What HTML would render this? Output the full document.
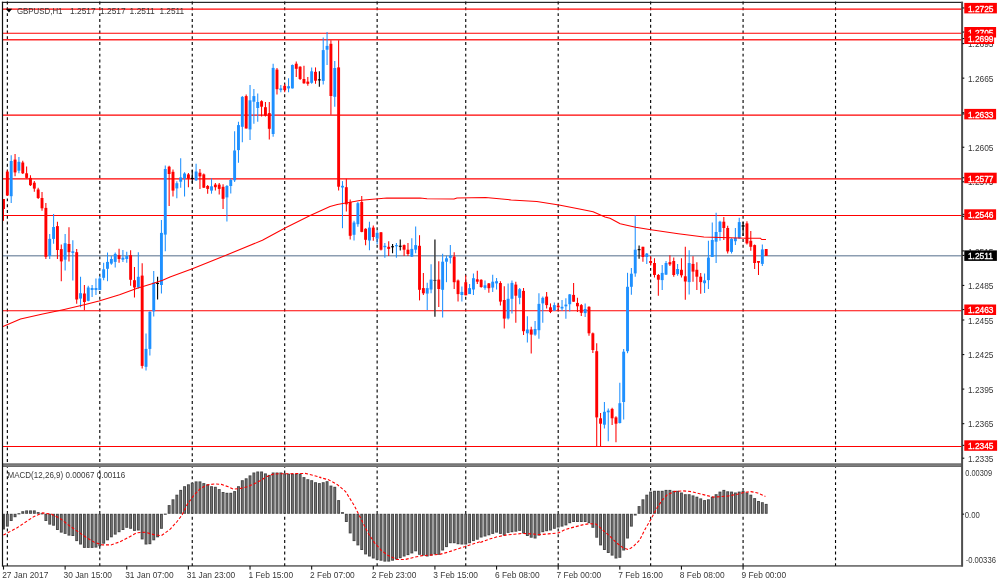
<!DOCTYPE html>
<html><head><meta charset="utf-8"><title>GBPUSD,H1</title>
<style>html,body{margin:0;padding:0;background:#fff;}body{width:1000px;height:586px;overflow:hidden;}svg{display:block;}text{font-family:"Liberation Sans",sans-serif;font-size:8.4px;}.t{filter:blur(0.3px);}</style></head><body>
<svg width="1000" height="586" viewBox="0 0 1000 586">
<rect width="1000" height="586" fill="#fff"/>
<g stroke="#000" stroke-width="1.12" stroke-dasharray="2.95 2.84" fill="none">
<path d="M7.35 1.56V566"/>
<path d="M99.80 1.56V566"/>
<path d="M192.25 1.56V566"/>
<path d="M284.70 1.56V566"/>
<path d="M377.14 1.56V566"/>
<path d="M465.74 1.56V566"/>
<path d="M558.19 1.56V566"/>
<path d="M650.64 1.56V566"/>
<path d="M743.08 1.56V566"/>
<path d="M835.53 1.56V566"/>
</g>
<g stroke="#ff0000" stroke-width="1.1">
<path d="M3 9.1H962"/>
<path d="M3 33.2H962"/>
<path d="M3 39.7H962" stroke="#ff2a2a" stroke-width="1.6"/>
<path d="M3 115.1H962"/>
<path d="M3 178.9H962"/>
<path d="M3 215.5H962"/>
<path d="M3 310.7H962"/>
<path d="M3 446.5H962"/>
</g>
<path d="M3 255.8H962" stroke="#8c9db1" stroke-width="1.5"/>
<g fill="#474747">
<rect x="3.00" y="513.80" width="1.95" height="15.70"/>
<rect x="5.90" y="513.80" width="2.90" height="12.80"/>
<rect x="9.75" y="513.80" width="2.90" height="7.20"/>
<rect x="13.61" y="513.80" width="2.90" height="3.40"/>
<rect x="17.46" y="513.20" width="2.90" height="1.2"/>
<rect x="21.31" y="511.20" width="2.90" height="2.60"/>
<rect x="25.16" y="510.40" width="2.90" height="3.40"/>
<rect x="29.01" y="510.40" width="2.90" height="3.40"/>
<rect x="32.87" y="510.40" width="2.90" height="3.40"/>
<rect x="36.72" y="512.10" width="2.90" height="1.70"/>
<rect x="40.57" y="513.20" width="2.90" height="1.2"/>
<rect x="44.42" y="513.80" width="2.90" height="7.20"/>
<rect x="48.27" y="513.80" width="2.90" height="10.80"/>
<rect x="52.13" y="513.80" width="2.90" height="11.90"/>
<rect x="55.98" y="513.80" width="2.90" height="16.20"/>
<rect x="59.83" y="513.80" width="2.90" height="18.80"/>
<rect x="63.68" y="513.80" width="2.90" height="20.10"/>
<rect x="67.53" y="513.80" width="2.90" height="21.80"/>
<rect x="71.39" y="513.80" width="2.90" height="22.20"/>
<rect x="75.24" y="513.80" width="2.90" height="27.30"/>
<rect x="79.09" y="513.80" width="2.90" height="30.70"/>
<rect x="82.94" y="513.80" width="2.90" height="34.10"/>
<rect x="86.79" y="513.80" width="2.90" height="34.10"/>
<rect x="90.65" y="513.80" width="2.90" height="34.10"/>
<rect x="94.50" y="513.80" width="2.90" height="33.80"/>
<rect x="98.35" y="513.80" width="2.90" height="32.40"/>
<rect x="102.20" y="513.80" width="2.90" height="29.90"/>
<rect x="106.05" y="513.80" width="2.90" height="26.50"/>
<rect x="109.91" y="513.80" width="2.90" height="23.50"/>
<rect x="113.76" y="513.80" width="2.90" height="20.80"/>
<rect x="117.61" y="513.80" width="2.90" height="18.40"/>
<rect x="121.46" y="513.80" width="2.90" height="16.20"/>
<rect x="125.31" y="513.80" width="2.90" height="14.00"/>
<rect x="129.17" y="513.80" width="2.90" height="15.00"/>
<rect x="133.02" y="513.80" width="2.90" height="17.10"/>
<rect x="136.87" y="513.80" width="2.90" height="16.70"/>
<rect x="140.72" y="513.80" width="2.90" height="25.60"/>
<rect x="144.57" y="513.80" width="2.90" height="30.70"/>
<rect x="148.43" y="513.80" width="2.90" height="30.40"/>
<rect x="152.28" y="513.80" width="2.90" height="26.50"/>
<rect x="156.13" y="513.80" width="2.90" height="23.50"/>
<rect x="159.98" y="513.80" width="2.90" height="15.00"/>
<rect x="163.83" y="513.60" width="2.90" height="1.2"/>
<rect x="167.69" y="505.10" width="2.90" height="8.70"/>
<rect x="171.54" y="499.30" width="2.90" height="14.50"/>
<rect x="175.39" y="494.70" width="2.90" height="19.10"/>
<rect x="179.24" y="489.90" width="2.90" height="23.90"/>
<rect x="183.09" y="486.20" width="2.90" height="27.60"/>
<rect x="186.95" y="484.30" width="2.90" height="29.50"/>
<rect x="190.80" y="482.70" width="2.90" height="31.10"/>
<rect x="194.65" y="481.40" width="2.90" height="32.40"/>
<rect x="198.50" y="481.40" width="2.90" height="32.40"/>
<rect x="202.35" y="483.10" width="2.90" height="30.70"/>
<rect x="206.21" y="484.30" width="2.90" height="29.50"/>
<rect x="210.06" y="486.20" width="2.90" height="27.60"/>
<rect x="213.91" y="486.80" width="2.90" height="27.00"/>
<rect x="217.76" y="489.10" width="2.90" height="24.70"/>
<rect x="221.61" y="492.00" width="2.90" height="21.80"/>
<rect x="225.47" y="492.80" width="2.90" height="21.00"/>
<rect x="229.32" y="492.80" width="2.90" height="21.00"/>
<rect x="233.17" y="491.10" width="2.90" height="22.70"/>
<rect x="237.02" y="486.20" width="2.90" height="27.60"/>
<rect x="240.87" y="480.20" width="2.90" height="33.60"/>
<rect x="244.73" y="478.30" width="2.90" height="35.50"/>
<rect x="248.58" y="475.40" width="2.90" height="38.40"/>
<rect x="252.43" y="472.50" width="2.90" height="41.30"/>
<rect x="256.28" y="471.50" width="2.90" height="42.30"/>
<rect x="260.13" y="471.50" width="2.90" height="42.30"/>
<rect x="263.99" y="473.40" width="2.90" height="40.40"/>
<rect x="267.84" y="474.90" width="2.90" height="38.90"/>
<rect x="271.69" y="472.50" width="2.90" height="41.30"/>
<rect x="275.54" y="472.50" width="2.90" height="41.30"/>
<rect x="279.39" y="472.50" width="2.90" height="41.30"/>
<rect x="283.25" y="473.40" width="2.90" height="40.40"/>
<rect x="287.10" y="473.70" width="2.90" height="40.10"/>
<rect x="290.95" y="473.70" width="2.90" height="40.10"/>
<rect x="294.80" y="473.70" width="2.90" height="40.10"/>
<rect x="298.65" y="473.70" width="2.90" height="40.10"/>
<rect x="302.51" y="477.10" width="2.90" height="36.70"/>
<rect x="306.36" y="479.20" width="2.90" height="34.60"/>
<rect x="310.21" y="480.20" width="2.90" height="33.60"/>
<rect x="314.06" y="482.20" width="2.90" height="31.60"/>
<rect x="317.91" y="483.10" width="2.90" height="30.70"/>
<rect x="321.77" y="482.20" width="2.90" height="31.60"/>
<rect x="325.62" y="481.20" width="2.90" height="32.60"/>
<rect x="329.47" y="485.60" width="2.90" height="28.20"/>
<rect x="333.32" y="486.80" width="2.90" height="27.00"/>
<rect x="337.17" y="500.10" width="2.90" height="13.70"/>
<rect x="341.03" y="512.10" width="2.90" height="1.70"/>
<rect x="344.88" y="513.80" width="2.90" height="8.20"/>
<rect x="348.73" y="513.80" width="2.90" height="19.60"/>
<rect x="352.58" y="513.80" width="2.90" height="27.30"/>
<rect x="356.43" y="513.80" width="2.90" height="31.60"/>
<rect x="360.29" y="513.80" width="2.90" height="36.20"/>
<rect x="364.14" y="513.80" width="2.90" height="40.60"/>
<rect x="367.99" y="513.80" width="2.90" height="42.70"/>
<rect x="371.84" y="513.80" width="2.90" height="44.70"/>
<rect x="375.69" y="513.80" width="2.90" height="46.10"/>
<rect x="379.55" y="513.80" width="2.90" height="46.90"/>
<rect x="383.40" y="513.80" width="2.90" height="47.80"/>
<rect x="387.25" y="513.80" width="2.90" height="47.80"/>
<rect x="391.10" y="513.80" width="2.90" height="46.90"/>
<rect x="394.95" y="513.80" width="2.90" height="45.70"/>
<rect x="398.81" y="513.80" width="2.90" height="44.40"/>
<rect x="402.66" y="513.80" width="2.90" height="42.70"/>
<rect x="406.51" y="513.80" width="2.90" height="41.30"/>
<rect x="410.36" y="513.80" width="2.90" height="39.60"/>
<rect x="414.21" y="513.80" width="2.90" height="37.50"/>
<rect x="418.07" y="513.80" width="2.90" height="41.00"/>
<rect x="421.92" y="513.80" width="2.90" height="41.80"/>
<rect x="425.77" y="513.80" width="2.90" height="42.70"/>
<rect x="429.62" y="513.80" width="2.90" height="41.80"/>
<rect x="433.47" y="513.80" width="2.90" height="40.60"/>
<rect x="437.33" y="513.80" width="2.90" height="41.00"/>
<rect x="441.18" y="513.80" width="2.90" height="36.70"/>
<rect x="445.03" y="513.80" width="2.90" height="33.30"/>
<rect x="448.88" y="513.80" width="2.90" height="29.40"/>
<rect x="452.73" y="513.80" width="2.90" height="29.40"/>
<rect x="456.59" y="513.80" width="2.90" height="30.40"/>
<rect x="460.44" y="513.80" width="2.90" height="30.70"/>
<rect x="464.29" y="513.80" width="2.90" height="30.70"/>
<rect x="468.14" y="513.80" width="2.90" height="29.40"/>
<rect x="471.99" y="513.80" width="2.90" height="27.30"/>
<rect x="475.85" y="513.80" width="2.90" height="25.90"/>
<rect x="479.70" y="513.80" width="2.90" height="23.70"/>
<rect x="483.55" y="513.80" width="2.90" height="22.70"/>
<rect x="487.40" y="513.80" width="2.90" height="21.50"/>
<rect x="491.25" y="513.80" width="2.90" height="20.10"/>
<rect x="495.11" y="513.80" width="2.90" height="18.80"/>
<rect x="498.96" y="513.80" width="2.90" height="20.10"/>
<rect x="502.81" y="513.80" width="2.90" height="21.80"/>
<rect x="506.66" y="513.80" width="2.90" height="19.10"/>
<rect x="510.51" y="513.80" width="2.90" height="18.40"/>
<rect x="514.37" y="513.80" width="2.90" height="17.90"/>
<rect x="518.22" y="513.80" width="2.90" height="17.10"/>
<rect x="522.07" y="513.80" width="2.90" height="19.60"/>
<rect x="525.92" y="513.80" width="2.90" height="22.20"/>
<rect x="529.77" y="513.80" width="2.90" height="23.90"/>
<rect x="533.63" y="513.80" width="2.90" height="24.70"/>
<rect x="537.48" y="513.80" width="2.90" height="21.80"/>
<rect x="541.33" y="513.80" width="2.90" height="18.40"/>
<rect x="545.18" y="513.80" width="2.90" height="17.40"/>
<rect x="549.03" y="513.80" width="2.90" height="16.70"/>
<rect x="552.89" y="513.80" width="2.90" height="15.00"/>
<rect x="556.74" y="513.80" width="2.90" height="13.70"/>
<rect x="560.59" y="513.80" width="2.90" height="12.80"/>
<rect x="564.44" y="513.80" width="2.90" height="11.60"/>
<rect x="568.29" y="513.80" width="2.90" height="9.40"/>
<rect x="572.15" y="513.80" width="2.90" height="8.20"/>
<rect x="576.00" y="513.80" width="2.90" height="8.20"/>
<rect x="579.85" y="513.80" width="2.90" height="8.20"/>
<rect x="583.70" y="513.80" width="2.90" height="8.20"/>
<rect x="587.55" y="513.80" width="2.90" height="9.40"/>
<rect x="591.41" y="513.80" width="2.90" height="14.00"/>
<rect x="595.26" y="513.80" width="2.90" height="23.90"/>
<rect x="599.11" y="513.80" width="2.90" height="31.60"/>
<rect x="602.96" y="513.80" width="2.90" height="36.20"/>
<rect x="606.81" y="513.80" width="2.90" height="39.20"/>
<rect x="610.67" y="513.80" width="2.90" height="41.80"/>
<rect x="614.52" y="513.80" width="2.90" height="44.70"/>
<rect x="618.37" y="513.80" width="2.90" height="44.00"/>
<rect x="622.22" y="513.80" width="2.90" height="36.70"/>
<rect x="626.07" y="513.80" width="2.90" height="24.70"/>
<rect x="629.93" y="513.80" width="2.90" height="12.80"/>
<rect x="633.78" y="513.80" width="2.90" height="1.70"/>
<rect x="637.63" y="506.10" width="2.90" height="7.70"/>
<rect x="641.48" y="499.30" width="2.90" height="14.50"/>
<rect x="645.33" y="494.70" width="2.90" height="19.10"/>
<rect x="649.19" y="491.60" width="2.90" height="22.20"/>
<rect x="653.04" y="490.80" width="2.90" height="23.00"/>
<rect x="656.89" y="490.80" width="2.90" height="23.00"/>
<rect x="660.74" y="490.80" width="2.90" height="23.00"/>
<rect x="664.59" y="489.90" width="2.90" height="23.90"/>
<rect x="668.45" y="489.90" width="2.90" height="23.90"/>
<rect x="672.30" y="490.80" width="2.90" height="23.00"/>
<rect x="676.15" y="490.80" width="2.90" height="23.00"/>
<rect x="680.00" y="492.50" width="2.90" height="21.30"/>
<rect x="683.85" y="494.20" width="2.90" height="19.60"/>
<rect x="687.71" y="494.20" width="2.90" height="19.60"/>
<rect x="691.56" y="495.40" width="2.90" height="18.40"/>
<rect x="695.41" y="496.70" width="2.90" height="17.10"/>
<rect x="699.26" y="498.40" width="2.90" height="15.40"/>
<rect x="703.11" y="500.10" width="2.90" height="13.70"/>
<rect x="706.97" y="499.30" width="2.90" height="14.50"/>
<rect x="710.82" y="496.70" width="2.90" height="17.10"/>
<rect x="714.67" y="494.20" width="2.90" height="19.60"/>
<rect x="718.52" y="491.60" width="2.90" height="22.20"/>
<rect x="722.37" y="489.90" width="2.90" height="23.90"/>
<rect x="726.23" y="491.30" width="2.90" height="22.50"/>
<rect x="730.08" y="491.60" width="2.90" height="22.20"/>
<rect x="733.93" y="492.50" width="2.90" height="21.30"/>
<rect x="737.78" y="491.60" width="2.90" height="22.20"/>
<rect x="741.63" y="490.80" width="2.90" height="23.00"/>
<rect x="745.49" y="492.50" width="2.90" height="21.30"/>
<rect x="749.34" y="494.70" width="2.90" height="19.10"/>
<rect x="753.19" y="498.10" width="2.90" height="15.70"/>
<rect x="757.04" y="501.00" width="2.90" height="12.80"/>
<rect x="760.89" y="502.20" width="2.90" height="11.60"/>
<rect x="764.75" y="503.90" width="2.90" height="9.90"/>
</g>
<g fill="#757575">
<rect x="6.85" y="514.80" width="1.0" height="10.80"/>
<rect x="10.70" y="514.80" width="1.0" height="5.20"/>
<rect x="14.56" y="514.80" width="1.0" height="1.40"/>
<rect x="22.26" y="512.20" width="1.0" height="0.60"/>
<rect x="26.11" y="511.40" width="1.0" height="1.40"/>
<rect x="29.96" y="511.40" width="1.0" height="1.40"/>
<rect x="33.82" y="511.40" width="1.0" height="1.40"/>
<rect x="45.37" y="514.80" width="1.0" height="5.20"/>
<rect x="49.22" y="514.80" width="1.0" height="8.80"/>
<rect x="53.08" y="514.80" width="1.0" height="9.90"/>
<rect x="56.93" y="514.80" width="1.0" height="14.20"/>
<rect x="60.78" y="514.80" width="1.0" height="16.80"/>
<rect x="64.63" y="514.80" width="1.0" height="18.10"/>
<rect x="68.48" y="514.80" width="1.0" height="19.80"/>
<rect x="72.34" y="514.80" width="1.0" height="20.20"/>
<rect x="76.19" y="514.80" width="1.0" height="25.30"/>
<rect x="80.04" y="514.80" width="1.0" height="28.70"/>
<rect x="83.89" y="514.80" width="1.0" height="32.10"/>
<rect x="87.74" y="514.80" width="1.0" height="32.10"/>
<rect x="91.60" y="514.80" width="1.0" height="32.10"/>
<rect x="95.45" y="514.80" width="1.0" height="31.80"/>
<rect x="99.30" y="514.80" width="1.0" height="30.40"/>
<rect x="103.15" y="514.80" width="1.0" height="27.90"/>
<rect x="107.00" y="514.80" width="1.0" height="24.50"/>
<rect x="110.86" y="514.80" width="1.0" height="21.50"/>
<rect x="114.71" y="514.80" width="1.0" height="18.80"/>
<rect x="118.56" y="514.80" width="1.0" height="16.40"/>
<rect x="122.41" y="514.80" width="1.0" height="14.20"/>
<rect x="126.26" y="514.80" width="1.0" height="12.00"/>
<rect x="130.12" y="514.80" width="1.0" height="13.00"/>
<rect x="133.97" y="514.80" width="1.0" height="15.10"/>
<rect x="137.82" y="514.80" width="1.0" height="14.70"/>
<rect x="141.67" y="514.80" width="1.0" height="23.60"/>
<rect x="145.52" y="514.80" width="1.0" height="28.70"/>
<rect x="149.38" y="514.80" width="1.0" height="28.40"/>
<rect x="153.23" y="514.80" width="1.0" height="24.50"/>
<rect x="157.08" y="514.80" width="1.0" height="21.50"/>
<rect x="160.93" y="514.80" width="1.0" height="13.00"/>
<rect x="168.64" y="506.10" width="1.0" height="6.70"/>
<rect x="172.49" y="500.30" width="1.0" height="12.50"/>
<rect x="176.34" y="495.70" width="1.0" height="17.10"/>
<rect x="180.19" y="490.90" width="1.0" height="21.90"/>
<rect x="184.04" y="487.20" width="1.0" height="25.60"/>
<rect x="187.90" y="485.30" width="1.0" height="27.50"/>
<rect x="191.75" y="483.70" width="1.0" height="29.10"/>
<rect x="195.60" y="482.40" width="1.0" height="30.40"/>
<rect x="199.45" y="482.40" width="1.0" height="30.40"/>
<rect x="203.30" y="484.10" width="1.0" height="28.70"/>
<rect x="207.16" y="485.30" width="1.0" height="27.50"/>
<rect x="211.01" y="487.20" width="1.0" height="25.60"/>
<rect x="214.86" y="487.80" width="1.0" height="25.00"/>
<rect x="218.71" y="490.10" width="1.0" height="22.70"/>
<rect x="222.56" y="493.00" width="1.0" height="19.80"/>
<rect x="226.42" y="493.80" width="1.0" height="19.00"/>
<rect x="230.27" y="493.80" width="1.0" height="19.00"/>
<rect x="234.12" y="492.10" width="1.0" height="20.70"/>
<rect x="237.97" y="487.20" width="1.0" height="25.60"/>
<rect x="241.82" y="481.20" width="1.0" height="31.60"/>
<rect x="245.68" y="479.30" width="1.0" height="33.50"/>
<rect x="249.53" y="476.40" width="1.0" height="36.40"/>
<rect x="253.38" y="473.50" width="1.0" height="39.30"/>
<rect x="257.23" y="472.50" width="1.0" height="40.30"/>
<rect x="261.08" y="472.50" width="1.0" height="40.30"/>
<rect x="264.94" y="474.40" width="1.0" height="38.40"/>
<rect x="268.79" y="475.90" width="1.0" height="36.90"/>
<rect x="272.64" y="473.50" width="1.0" height="39.30"/>
<rect x="276.49" y="473.50" width="1.0" height="39.30"/>
<rect x="280.34" y="473.50" width="1.0" height="39.30"/>
<rect x="284.20" y="474.40" width="1.0" height="38.40"/>
<rect x="288.05" y="474.70" width="1.0" height="38.10"/>
<rect x="291.90" y="474.70" width="1.0" height="38.10"/>
<rect x="295.75" y="474.70" width="1.0" height="38.10"/>
<rect x="299.60" y="474.70" width="1.0" height="38.10"/>
<rect x="303.46" y="478.10" width="1.0" height="34.70"/>
<rect x="307.31" y="480.20" width="1.0" height="32.60"/>
<rect x="311.16" y="481.20" width="1.0" height="31.60"/>
<rect x="315.01" y="483.20" width="1.0" height="29.60"/>
<rect x="318.86" y="484.10" width="1.0" height="28.70"/>
<rect x="322.72" y="483.20" width="1.0" height="29.60"/>
<rect x="326.57" y="482.20" width="1.0" height="30.60"/>
<rect x="330.42" y="486.60" width="1.0" height="26.20"/>
<rect x="334.27" y="487.80" width="1.0" height="25.00"/>
<rect x="338.12" y="501.10" width="1.0" height="11.70"/>
<rect x="345.83" y="514.80" width="1.0" height="6.20"/>
<rect x="349.68" y="514.80" width="1.0" height="17.60"/>
<rect x="353.53" y="514.80" width="1.0" height="25.30"/>
<rect x="357.38" y="514.80" width="1.0" height="29.60"/>
<rect x="361.24" y="514.80" width="1.0" height="34.20"/>
<rect x="365.09" y="514.80" width="1.0" height="38.60"/>
<rect x="368.94" y="514.80" width="1.0" height="40.70"/>
<rect x="372.79" y="514.80" width="1.0" height="42.70"/>
<rect x="376.64" y="514.80" width="1.0" height="44.10"/>
<rect x="380.50" y="514.80" width="1.0" height="44.90"/>
<rect x="384.35" y="514.80" width="1.0" height="45.80"/>
<rect x="388.20" y="514.80" width="1.0" height="45.80"/>
<rect x="392.05" y="514.80" width="1.0" height="44.90"/>
<rect x="395.90" y="514.80" width="1.0" height="43.70"/>
<rect x="399.76" y="514.80" width="1.0" height="42.40"/>
<rect x="403.61" y="514.80" width="1.0" height="40.70"/>
<rect x="407.46" y="514.80" width="1.0" height="39.30"/>
<rect x="411.31" y="514.80" width="1.0" height="37.60"/>
<rect x="415.16" y="514.80" width="1.0" height="35.50"/>
<rect x="419.02" y="514.80" width="1.0" height="39.00"/>
<rect x="422.87" y="514.80" width="1.0" height="39.80"/>
<rect x="426.72" y="514.80" width="1.0" height="40.70"/>
<rect x="430.57" y="514.80" width="1.0" height="39.80"/>
<rect x="434.42" y="514.80" width="1.0" height="38.60"/>
<rect x="438.28" y="514.80" width="1.0" height="39.00"/>
<rect x="442.13" y="514.80" width="1.0" height="34.70"/>
<rect x="445.98" y="514.80" width="1.0" height="31.30"/>
<rect x="449.83" y="514.80" width="1.0" height="27.40"/>
<rect x="453.68" y="514.80" width="1.0" height="27.40"/>
<rect x="457.54" y="514.80" width="1.0" height="28.40"/>
<rect x="461.39" y="514.80" width="1.0" height="28.70"/>
<rect x="465.24" y="514.80" width="1.0" height="28.70"/>
<rect x="469.09" y="514.80" width="1.0" height="27.40"/>
<rect x="472.94" y="514.80" width="1.0" height="25.30"/>
<rect x="476.80" y="514.80" width="1.0" height="23.90"/>
<rect x="480.65" y="514.80" width="1.0" height="21.70"/>
<rect x="484.50" y="514.80" width="1.0" height="20.70"/>
<rect x="488.35" y="514.80" width="1.0" height="19.50"/>
<rect x="492.20" y="514.80" width="1.0" height="18.10"/>
<rect x="496.06" y="514.80" width="1.0" height="16.80"/>
<rect x="499.91" y="514.80" width="1.0" height="18.10"/>
<rect x="503.76" y="514.80" width="1.0" height="19.80"/>
<rect x="507.61" y="514.80" width="1.0" height="17.10"/>
<rect x="511.46" y="514.80" width="1.0" height="16.40"/>
<rect x="515.32" y="514.80" width="1.0" height="15.90"/>
<rect x="519.17" y="514.80" width="1.0" height="15.10"/>
<rect x="523.02" y="514.80" width="1.0" height="17.60"/>
<rect x="526.87" y="514.80" width="1.0" height="20.20"/>
<rect x="530.72" y="514.80" width="1.0" height="21.90"/>
<rect x="534.58" y="514.80" width="1.0" height="22.70"/>
<rect x="538.43" y="514.80" width="1.0" height="19.80"/>
<rect x="542.28" y="514.80" width="1.0" height="16.40"/>
<rect x="546.13" y="514.80" width="1.0" height="15.40"/>
<rect x="549.98" y="514.80" width="1.0" height="14.70"/>
<rect x="553.84" y="514.80" width="1.0" height="13.00"/>
<rect x="557.69" y="514.80" width="1.0" height="11.70"/>
<rect x="561.54" y="514.80" width="1.0" height="10.80"/>
<rect x="565.39" y="514.80" width="1.0" height="9.60"/>
<rect x="569.24" y="514.80" width="1.0" height="7.40"/>
<rect x="573.10" y="514.80" width="1.0" height="6.20"/>
<rect x="576.95" y="514.80" width="1.0" height="6.20"/>
<rect x="580.80" y="514.80" width="1.0" height="6.20"/>
<rect x="584.65" y="514.80" width="1.0" height="6.20"/>
<rect x="588.50" y="514.80" width="1.0" height="7.40"/>
<rect x="592.36" y="514.80" width="1.0" height="12.00"/>
<rect x="596.21" y="514.80" width="1.0" height="21.90"/>
<rect x="600.06" y="514.80" width="1.0" height="29.60"/>
<rect x="603.91" y="514.80" width="1.0" height="34.20"/>
<rect x="607.76" y="514.80" width="1.0" height="37.20"/>
<rect x="611.62" y="514.80" width="1.0" height="39.80"/>
<rect x="615.47" y="514.80" width="1.0" height="42.70"/>
<rect x="619.32" y="514.80" width="1.0" height="42.00"/>
<rect x="623.17" y="514.80" width="1.0" height="34.70"/>
<rect x="627.02" y="514.80" width="1.0" height="22.70"/>
<rect x="630.88" y="514.80" width="1.0" height="10.80"/>
<rect x="638.58" y="507.10" width="1.0" height="5.70"/>
<rect x="642.43" y="500.30" width="1.0" height="12.50"/>
<rect x="646.28" y="495.70" width="1.0" height="17.10"/>
<rect x="650.14" y="492.60" width="1.0" height="20.20"/>
<rect x="653.99" y="491.80" width="1.0" height="21.00"/>
<rect x="657.84" y="491.80" width="1.0" height="21.00"/>
<rect x="661.69" y="491.80" width="1.0" height="21.00"/>
<rect x="665.54" y="490.90" width="1.0" height="21.90"/>
<rect x="669.40" y="490.90" width="1.0" height="21.90"/>
<rect x="673.25" y="491.80" width="1.0" height="21.00"/>
<rect x="677.10" y="491.80" width="1.0" height="21.00"/>
<rect x="680.95" y="493.50" width="1.0" height="19.30"/>
<rect x="684.80" y="495.20" width="1.0" height="17.60"/>
<rect x="688.66" y="495.20" width="1.0" height="17.60"/>
<rect x="692.51" y="496.40" width="1.0" height="16.40"/>
<rect x="696.36" y="497.70" width="1.0" height="15.10"/>
<rect x="700.21" y="499.40" width="1.0" height="13.40"/>
<rect x="704.06" y="501.10" width="1.0" height="11.70"/>
<rect x="707.92" y="500.30" width="1.0" height="12.50"/>
<rect x="711.77" y="497.70" width="1.0" height="15.10"/>
<rect x="715.62" y="495.20" width="1.0" height="17.60"/>
<rect x="719.47" y="492.60" width="1.0" height="20.20"/>
<rect x="723.32" y="490.90" width="1.0" height="21.90"/>
<rect x="727.18" y="492.30" width="1.0" height="20.50"/>
<rect x="731.03" y="492.60" width="1.0" height="20.20"/>
<rect x="734.88" y="493.50" width="1.0" height="19.30"/>
<rect x="738.73" y="492.60" width="1.0" height="20.20"/>
<rect x="742.58" y="491.80" width="1.0" height="21.00"/>
<rect x="746.44" y="493.50" width="1.0" height="19.30"/>
<rect x="750.29" y="495.70" width="1.0" height="17.10"/>
<rect x="754.14" y="499.10" width="1.0" height="13.70"/>
<rect x="757.99" y="502.00" width="1.0" height="10.80"/>
<rect x="761.84" y="503.20" width="1.0" height="9.60"/>
<rect x="765.70" y="504.90" width="1.0" height="7.90"/>
</g>
<path d="M3.50 199.0V220.8" stroke="#ff0000" stroke-width="1.05"/>
<rect x="3.00" y="199.00" width="1.95" height="10.00" fill="#ff0000"/>
<path d="M7.35 170.3V196.0" stroke="#ff0000" stroke-width="1.05"/>
<rect x="5.90" y="171.60" width="2.90" height="23.90" fill="#ff0000"/>
<path d="M11.20 155.2V203.0" stroke="#1e90ff" stroke-width="1.05"/>
<rect x="9.75" y="161.00" width="2.90" height="35.20" fill="#1e90ff"/>
<path d="M15.06 154.0V176.2" stroke="#ff0000" stroke-width="1.05"/>
<rect x="13.61" y="159.60" width="2.90" height="12.80" fill="#ff0000"/>
<path d="M18.91 157.0V173.3" stroke="#1e90ff" stroke-width="1.05"/>
<rect x="17.46" y="161.80" width="2.90" height="8.90" fill="#1e90ff"/>
<path d="M22.76 160.8V174.0" stroke="#ff0000" stroke-width="1.05"/>
<rect x="21.31" y="162.50" width="2.90" height="10.80" fill="#ff0000"/>
<path d="M26.61 166.5V178.4" stroke="#ff0000" stroke-width="1.05"/>
<rect x="25.16" y="173.30" width="2.90" height="4.60" fill="#ff0000"/>
<path d="M30.46 175.3V186.0" stroke="#ff0000" stroke-width="1.05"/>
<rect x="29.01" y="177.90" width="2.90" height="7.30" fill="#ff0000"/>
<path d="M34.32 181.0V191.7" stroke="#ff0000" stroke-width="1.05"/>
<rect x="32.87" y="182.70" width="2.90" height="5.90" fill="#ff0000"/>
<path d="M38.17 187.8V198.9" stroke="#ff0000" stroke-width="1.05"/>
<rect x="36.72" y="189.50" width="2.90" height="8.50" fill="#ff0000"/>
<path d="M42.02 192.0V210.8" stroke="#ff0000" stroke-width="1.05"/>
<rect x="40.57" y="198.00" width="2.90" height="10.30" fill="#ff0000"/>
<path d="M45.87 203.0V259.0" stroke="#ff0000" stroke-width="1.05"/>
<rect x="44.42" y="207.90" width="2.90" height="48.90" fill="#ff0000"/>
<path d="M49.72 234.1V259.0" stroke="#1e90ff" stroke-width="1.05"/>
<rect x="48.27" y="238.90" width="2.90" height="17.10" fill="#1e90ff"/>
<path d="M53.58 213.9V243.7" stroke="#1e90ff" stroke-width="1.05"/>
<rect x="52.13" y="227.00" width="2.90" height="11.90" fill="#1e90ff"/>
<path d="M57.43 221.8V259.0" stroke="#ff0000" stroke-width="1.05"/>
<rect x="55.98" y="226.10" width="2.90" height="23.90" fill="#ff0000"/>
<path d="M61.28 244.4V281.2" stroke="#ff0000" stroke-width="1.05"/>
<rect x="59.83" y="249.10" width="2.90" height="12.30" fill="#ff0000"/>
<path d="M65.13 234.1V270.5" stroke="#1e90ff" stroke-width="1.05"/>
<rect x="63.68" y="243.20" width="2.90" height="16.50" fill="#1e90ff"/>
<path d="M68.98 227.3V261.4" stroke="#ff0000" stroke-width="1.05"/>
<rect x="67.53" y="244.00" width="2.90" height="8.20" fill="#ff0000"/>
<path d="M72.84 240.3V280.4" stroke="#1e90ff" stroke-width="1.05"/>
<rect x="71.39" y="251.30" width="2.90" height="1.60" fill="#1e90ff"/>
<path d="M76.69 249.1V303.7" stroke="#ff0000" stroke-width="1.05"/>
<rect x="75.24" y="252.20" width="2.90" height="47.30" fill="#ff0000"/>
<path d="M80.54 276.8V307.2" stroke="#1e90ff" stroke-width="1.05"/>
<rect x="79.09" y="293.20" width="2.90" height="5.40" fill="#1e90ff"/>
<path d="M84.39 285.0V310.2" stroke="#ff0000" stroke-width="1.05"/>
<rect x="82.94" y="293.50" width="2.90" height="8.50" fill="#ff0000"/>
<path d="M88.24 285.8V301.2" stroke="#1e90ff" stroke-width="1.05"/>
<rect x="86.79" y="287.50" width="2.90" height="13.30" fill="#1e90ff"/>
<path d="M92.10 285.0V296.9" stroke="#1e90ff" stroke-width="1.05"/>
<rect x="90.65" y="288.00" width="2.90" height="2.00" fill="#1e90ff"/>
<path d="M95.95 278.5V294.9" stroke="#1e90ff" stroke-width="1.05"/>
<rect x="94.50" y="288.00" width="2.90" height="2.00" fill="#1e90ff"/>
<path d="M99.80 276.1V290.1" stroke="#1e90ff" stroke-width="1.05"/>
<rect x="98.35" y="278.50" width="2.90" height="11.60" fill="#1e90ff"/>
<path d="M103.65 262.8V280.2" stroke="#1e90ff" stroke-width="1.05"/>
<rect x="102.20" y="269.30" width="2.90" height="8.50" fill="#1e90ff"/>
<path d="M107.50 252.5V281.2" stroke="#1e90ff" stroke-width="1.05"/>
<rect x="106.05" y="261.90" width="2.90" height="6.90" fill="#1e90ff"/>
<path d="M111.36 256.0V264.8" stroke="#1e90ff" stroke-width="1.05"/>
<rect x="109.91" y="259.00" width="2.90" height="4.60" fill="#1e90ff"/>
<path d="M115.21 252.5V267.6" stroke="#1e90ff" stroke-width="1.05"/>
<rect x="113.76" y="253.90" width="2.90" height="8.00" fill="#1e90ff"/>
<path d="M119.06 248.8V262.8" stroke="#ff0000" stroke-width="1.05"/>
<rect x="117.61" y="255.10" width="2.90" height="3.90" fill="#ff0000"/>
<path d="M122.91 250.0V261.9" stroke="#1e90ff" stroke-width="1.05"/>
<rect x="121.46" y="257.70" width="2.90" height="2.00" fill="#1e90ff"/>
<path d="M126.76 251.7V262.8" stroke="#1e90ff" stroke-width="1.05"/>
<rect x="125.31" y="256.00" width="2.90" height="3.00" fill="#1e90ff"/>
<path d="M130.62 250.3V285.8" stroke="#ff0000" stroke-width="1.05"/>
<rect x="129.17" y="255.10" width="2.90" height="24.70" fill="#ff0000"/>
<path d="M134.47 267.0V297.4" stroke="#ff0000" stroke-width="1.05"/>
<rect x="133.02" y="280.20" width="2.90" height="7.30" fill="#ff0000"/>
<path d="M138.32 252.2V288.4" stroke="#1e90ff" stroke-width="1.05"/>
<rect x="136.87" y="276.80" width="2.90" height="10.70" fill="#1e90ff"/>
<path d="M142.17 263.3V368.5" stroke="#ff0000" stroke-width="1.05"/>
<rect x="140.72" y="275.60" width="2.90" height="90.30" fill="#ff0000"/>
<path d="M146.02 333.5V370.5" stroke="#1e90ff" stroke-width="1.05"/>
<rect x="144.57" y="348.90" width="2.90" height="17.90" fill="#1e90ff"/>
<path d="M149.88 311.3V355.4" stroke="#1e90ff" stroke-width="1.05"/>
<rect x="148.43" y="311.80" width="2.90" height="37.10" fill="#1e90ff"/>
<path d="M153.73 271.0V316.5" stroke="#1e90ff" stroke-width="1.05"/>
<rect x="152.28" y="282.40" width="2.90" height="28.90" fill="#1e90ff"/>
<path d="M157.58 276.8V299.5" stroke="#000000" stroke-width="1.1"/>
<rect x="156.13" y="282.90" width="2.9" height="1.10" fill="#000000"/>
<path d="M161.43 220.0V293.5" stroke="#1e90ff" stroke-width="1.05"/>
<rect x="159.98" y="232.90" width="2.90" height="52.10" fill="#1e90ff"/>
<path d="M165.28 165.6V251.2" stroke="#1e90ff" stroke-width="1.05"/>
<rect x="163.83" y="169.00" width="2.90" height="65.60" fill="#1e90ff"/>
<path d="M169.14 165.8V205.9" stroke="#ff0000" stroke-width="1.05"/>
<rect x="167.69" y="166.70" width="2.90" height="7.30" fill="#ff0000"/>
<path d="M172.99 169.6V196.6" stroke="#ff0000" stroke-width="1.05"/>
<rect x="171.54" y="171.80" width="2.90" height="18.80" fill="#ff0000"/>
<path d="M176.84 181.2V198.3" stroke="#1e90ff" stroke-width="1.05"/>
<rect x="175.39" y="183.20" width="2.90" height="5.20" fill="#1e90ff"/>
<path d="M180.69 158.2V187.7" stroke="#1e90ff" stroke-width="1.05"/>
<rect x="179.24" y="177.40" width="2.90" height="4.30" fill="#1e90ff"/>
<path d="M184.54 172.3V196.6" stroke="#1e90ff" stroke-width="1.05"/>
<rect x="183.09" y="173.50" width="2.90" height="5.10" fill="#1e90ff"/>
<path d="M188.40 173.0V187.2" stroke="#ff0000" stroke-width="1.05"/>
<rect x="186.95" y="174.40" width="2.90" height="4.20" fill="#ff0000"/>
<path d="M192.25 170.1V182.9" stroke="#000000" stroke-width="1.1"/>
<rect x="190.80" y="177.90" width="2.9" height="1.10" fill="#000000"/>
<path d="M196.10 163.8V180.9" stroke="#1e90ff" stroke-width="1.05"/>
<rect x="194.65" y="171.50" width="2.90" height="8.80" fill="#1e90ff"/>
<path d="M199.95 168.9V188.9" stroke="#ff0000" stroke-width="1.05"/>
<rect x="198.50" y="172.70" width="2.90" height="3.70" fill="#ff0000"/>
<path d="M203.80 173.5V188.0" stroke="#ff0000" stroke-width="1.05"/>
<rect x="202.35" y="174.40" width="2.90" height="13.30" fill="#ff0000"/>
<path d="M207.66 184.9V193.7" stroke="#ff0000" stroke-width="1.05"/>
<rect x="206.21" y="186.00" width="2.90" height="2.90" fill="#ff0000"/>
<path d="M211.51 178.3V193.7" stroke="#1e90ff" stroke-width="1.05"/>
<rect x="210.06" y="186.30" width="2.90" height="4.30" fill="#1e90ff"/>
<path d="M215.36 182.9V190.6" stroke="#ff0000" stroke-width="1.05"/>
<rect x="213.91" y="184.60" width="2.90" height="2.60" fill="#ff0000"/>
<path d="M219.21 182.9V194.5" stroke="#ff0000" stroke-width="1.05"/>
<rect x="217.76" y="184.60" width="2.90" height="4.30" fill="#ff0000"/>
<path d="M223.06 184.3V209.0" stroke="#ff0000" stroke-width="1.05"/>
<rect x="221.61" y="186.80" width="2.90" height="12.00" fill="#ff0000"/>
<path d="M226.92 184.9V221.6" stroke="#1e90ff" stroke-width="1.05"/>
<rect x="225.47" y="186.00" width="2.90" height="11.40" fill="#1e90ff"/>
<path d="M230.77 178.3V193.5" stroke="#1e90ff" stroke-width="1.05"/>
<rect x="229.32" y="180.00" width="2.90" height="6.00" fill="#1e90ff"/>
<path d="M234.62 131.2V182.0" stroke="#1e90ff" stroke-width="1.05"/>
<rect x="233.17" y="150.50" width="2.90" height="29.80" fill="#1e90ff"/>
<path d="M238.47 121.7V162.8" stroke="#1e90ff" stroke-width="1.05"/>
<rect x="237.02" y="125.10" width="2.90" height="25.00" fill="#1e90ff"/>
<path d="M242.32 96.1V142.2" stroke="#1e90ff" stroke-width="1.05"/>
<rect x="240.87" y="96.90" width="2.90" height="29.90" fill="#1e90ff"/>
<path d="M246.18 94.4V128.5" stroke="#ff0000" stroke-width="1.05"/>
<rect x="244.73" y="96.10" width="2.90" height="32.40" fill="#ff0000"/>
<path d="M250.03 85.0V140.1" stroke="#1e90ff" stroke-width="1.05"/>
<rect x="248.58" y="100.30" width="2.90" height="29.10" fill="#1e90ff"/>
<path d="M253.88 88.9V123.7" stroke="#1e90ff" stroke-width="1.05"/>
<rect x="252.43" y="96.10" width="2.90" height="5.60" fill="#1e90ff"/>
<path d="M257.73 93.5V121.7" stroke="#1e90ff" stroke-width="1.05"/>
<rect x="256.28" y="102.00" width="2.90" height="6.00" fill="#1e90ff"/>
<path d="M261.58 100.3V116.6" stroke="#ff0000" stroke-width="1.05"/>
<rect x="260.13" y="101.20" width="2.90" height="5.50" fill="#ff0000"/>
<path d="M265.44 102.0V116.6" stroke="#ff0000" stroke-width="1.05"/>
<rect x="263.99" y="107.20" width="2.90" height="8.50" fill="#ff0000"/>
<path d="M269.29 102.0V139.6" stroke="#ff0000" stroke-width="1.05"/>
<rect x="267.84" y="113.10" width="2.90" height="15.70" fill="#ff0000"/>
<path d="M273.14 63.7V136.7" stroke="#1e90ff" stroke-width="1.05"/>
<rect x="271.69" y="67.90" width="2.90" height="66.10" fill="#1e90ff"/>
<path d="M276.99 67.9V94.4" stroke="#ff0000" stroke-width="1.05"/>
<rect x="275.54" y="69.60" width="2.90" height="19.60" fill="#ff0000"/>
<path d="M280.84 85.0V92.3" stroke="#1e90ff" stroke-width="1.05"/>
<rect x="279.39" y="88.40" width="2.90" height="1.70" fill="#1e90ff"/>
<path d="M284.70 84.1V92.3" stroke="#ff0000" stroke-width="1.05"/>
<rect x="283.25" y="85.80" width="2.90" height="4.30" fill="#ff0000"/>
<path d="M288.55 78.2V92.3" stroke="#1e90ff" stroke-width="1.05"/>
<rect x="287.10" y="86.20" width="2.90" height="2.20" fill="#1e90ff"/>
<path d="M292.40 64.5V88.4" stroke="#1e90ff" stroke-width="1.05"/>
<rect x="290.95" y="65.00" width="2.90" height="23.40" fill="#1e90ff"/>
<path d="M296.25 61.6V77.0" stroke="#ff0000" stroke-width="1.05"/>
<rect x="294.80" y="63.70" width="2.90" height="5.10" fill="#ff0000"/>
<path d="M300.10 66.2V79.9" stroke="#ff0000" stroke-width="1.05"/>
<rect x="298.65" y="66.70" width="2.90" height="12.30" fill="#ff0000"/>
<path d="M303.96 65.7V83.8" stroke="#ff0000" stroke-width="1.05"/>
<rect x="302.51" y="79.00" width="2.90" height="4.30" fill="#ff0000"/>
<path d="M307.81 77.0V85.8" stroke="#ff0000" stroke-width="1.05"/>
<rect x="306.36" y="81.60" width="2.90" height="2.20" fill="#ff0000"/>
<path d="M311.66 67.4V83.8" stroke="#1e90ff" stroke-width="1.05"/>
<rect x="310.21" y="71.30" width="2.90" height="11.50" fill="#1e90ff"/>
<path d="M315.51 67.4V83.8" stroke="#ff0000" stroke-width="1.05"/>
<rect x="314.06" y="71.80" width="2.90" height="8.90" fill="#ff0000"/>
<path d="M319.36 71.3V86.7" stroke="#000000" stroke-width="1.1"/>
<rect x="317.91" y="79.30" width="2.9" height="1.10" fill="#000000"/>
<path d="M323.22 37.5V84.4" stroke="#1e90ff" stroke-width="1.05"/>
<rect x="321.77" y="50.10" width="2.90" height="30.80" fill="#1e90ff"/>
<path d="M327.07 31.9V65.1" stroke="#1e90ff" stroke-width="1.05"/>
<rect x="325.62" y="45.90" width="2.90" height="3.80" fill="#1e90ff"/>
<path d="M330.92 40.3V114.8" stroke="#ff0000" stroke-width="1.05"/>
<rect x="329.47" y="43.80" width="2.90" height="52.20" fill="#ff0000"/>
<path d="M334.77 60.9V106.7" stroke="#1e90ff" stroke-width="1.05"/>
<rect x="333.32" y="68.00" width="2.90" height="28.80" fill="#1e90ff"/>
<path d="M338.62 40.3V190.6" stroke="#ff0000" stroke-width="1.05"/>
<rect x="337.17" y="67.40" width="2.90" height="119.30" fill="#ff0000"/>
<path d="M342.48 181.1V228.2" stroke="#1e90ff" stroke-width="1.05"/>
<rect x="341.03" y="185.80" width="2.90" height="1.70" fill="#1e90ff"/>
<path d="M346.33 178.7V211.4" stroke="#ff0000" stroke-width="1.05"/>
<rect x="344.88" y="187.20" width="2.90" height="17.10" fill="#ff0000"/>
<path d="M350.18 199.5V239.6" stroke="#ff0000" stroke-width="1.05"/>
<rect x="348.73" y="202.00" width="2.90" height="33.80" fill="#ff0000"/>
<path d="M354.03 220.8V240.4" stroke="#1e90ff" stroke-width="1.05"/>
<rect x="352.58" y="222.50" width="2.90" height="12.30" fill="#1e90ff"/>
<path d="M357.88 202.0V226.8" stroke="#1e90ff" stroke-width="1.05"/>
<rect x="356.43" y="203.20" width="2.90" height="21.00" fill="#1e90ff"/>
<path d="M361.74 196.1V232.3" stroke="#ff0000" stroke-width="1.05"/>
<rect x="360.29" y="202.00" width="2.90" height="29.90" fill="#ff0000"/>
<path d="M365.59 228.2V245.3" stroke="#ff0000" stroke-width="1.05"/>
<rect x="364.14" y="228.80" width="2.90" height="11.00" fill="#ff0000"/>
<path d="M369.44 221.7V250.3" stroke="#1e90ff" stroke-width="1.05"/>
<rect x="367.99" y="227.60" width="2.90" height="12.90" fill="#1e90ff"/>
<path d="M373.29 225.4V240.8" stroke="#ff0000" stroke-width="1.05"/>
<rect x="371.84" y="227.60" width="2.90" height="9.40" fill="#ff0000"/>
<path d="M377.14 230.2V244.2" stroke="#1e90ff" stroke-width="1.05"/>
<rect x="375.69" y="232.80" width="2.90" height="5.90" fill="#1e90ff"/>
<path d="M381.00 231.9V250.6" stroke="#ff0000" stroke-width="1.05"/>
<rect x="379.55" y="232.30" width="2.90" height="17.40" fill="#ff0000"/>
<path d="M384.85 242.9V257.8" stroke="#1e90ff" stroke-width="1.05"/>
<rect x="383.40" y="245.80" width="2.90" height="1.40" fill="#1e90ff"/>
<path d="M388.70 241.2V256.1" stroke="#ff0000" stroke-width="1.05"/>
<rect x="387.25" y="246.80" width="2.90" height="2.10" fill="#ff0000"/>
<path d="M392.55 244.1V253.2" stroke="#000000" stroke-width="1.1"/>
<rect x="391.10" y="246.20" width="2.9" height="1.10" fill="#000000"/>
<path d="M396.40 242.9V257.8" stroke="#1e90ff" stroke-width="1.05"/>
<rect x="394.95" y="245.10" width="2.90" height="1.20" fill="#1e90ff"/>
<path d="M400.26 239.5V250.6" stroke="#000000" stroke-width="1.1"/>
<rect x="398.81" y="245.70" width="2.9" height="1.10" fill="#000000"/>
<path d="M404.11 244.6V256.1" stroke="#ff0000" stroke-width="1.05"/>
<rect x="402.66" y="245.10" width="2.90" height="4.60" fill="#ff0000"/>
<path d="M407.96 242.9V256.1" stroke="#ff0000" stroke-width="1.05"/>
<rect x="406.51" y="249.70" width="2.90" height="4.30" fill="#ff0000"/>
<path d="M411.81 238.3V257.1" stroke="#1e90ff" stroke-width="1.05"/>
<rect x="410.36" y="248.90" width="2.90" height="7.70" fill="#1e90ff"/>
<path d="M415.66 226.4V253.2" stroke="#1e90ff" stroke-width="1.05"/>
<rect x="414.21" y="245.10" width="2.90" height="4.60" fill="#1e90ff"/>
<path d="M419.52 235.2V300.4" stroke="#ff0000" stroke-width="1.05"/>
<rect x="418.07" y="245.80" width="2.90" height="44.00" fill="#ff0000"/>
<path d="M423.37 273.1V295.0" stroke="#ff0000" stroke-width="1.05"/>
<rect x="421.92" y="288.10" width="2.90" height="5.20" fill="#ff0000"/>
<path d="M427.22 282.7V310.0" stroke="#1e90ff" stroke-width="1.05"/>
<rect x="425.77" y="288.10" width="2.90" height="5.50" fill="#1e90ff"/>
<path d="M431.07 264.2V293.3" stroke="#1e90ff" stroke-width="1.05"/>
<rect x="429.62" y="279.60" width="2.90" height="9.90" fill="#1e90ff"/>
<path d="M434.92 239.5V316.8" stroke="#3c3c3c" stroke-width="1.5"/>
<rect x="433.47" y="279.90" width="2.9" height="1.10" fill="#3c3c3c"/>
<path d="M438.78 261.2V306.9" stroke="#ff0000" stroke-width="1.05"/>
<rect x="437.33" y="279.60" width="2.90" height="9.40" fill="#ff0000"/>
<path d="M442.63 253.7V317.5" stroke="#1e90ff" stroke-width="1.05"/>
<rect x="441.18" y="261.70" width="2.90" height="28.10" fill="#1e90ff"/>
<path d="M446.48 255.7V282.2" stroke="#1e90ff" stroke-width="1.05"/>
<rect x="445.03" y="258.30" width="2.90" height="3.40" fill="#1e90ff"/>
<path d="M450.33 245.1V263.4" stroke="#1e90ff" stroke-width="1.05"/>
<rect x="448.88" y="255.70" width="2.90" height="2.10" fill="#1e90ff"/>
<path d="M454.18 252.3V289.0" stroke="#ff0000" stroke-width="1.05"/>
<rect x="452.73" y="256.60" width="2.90" height="25.60" fill="#ff0000"/>
<path d="M458.04 279.6V301.5" stroke="#ff0000" stroke-width="1.05"/>
<rect x="456.59" y="280.50" width="2.90" height="13.60" fill="#ff0000"/>
<path d="M461.89 286.4V301.5" stroke="#1e90ff" stroke-width="1.05"/>
<rect x="460.44" y="291.90" width="2.90" height="3.10" fill="#1e90ff"/>
<path d="M465.74 275.3V295.3" stroke="#ff0000" stroke-width="1.05"/>
<rect x="464.29" y="282.20" width="2.90" height="13.10" fill="#ff0000"/>
<path d="M469.59 283.9V294.1" stroke="#1e90ff" stroke-width="1.05"/>
<rect x="468.14" y="288.10" width="2.90" height="6.00" fill="#1e90ff"/>
<path d="M473.44 273.6V295.0" stroke="#1e90ff" stroke-width="1.05"/>
<rect x="471.99" y="278.20" width="2.90" height="11.30" fill="#1e90ff"/>
<path d="M477.30 270.7V283.9" stroke="#ff0000" stroke-width="1.05"/>
<rect x="475.85" y="279.30" width="2.90" height="2.40" fill="#ff0000"/>
<path d="M481.15 279.3V287.8" stroke="#ff0000" stroke-width="1.05"/>
<rect x="479.70" y="279.80" width="2.90" height="7.20" fill="#ff0000"/>
<path d="M485.00 280.4V289.7" stroke="#1e90ff" stroke-width="1.05"/>
<rect x="483.55" y="285.30" width="2.90" height="2.60" fill="#1e90ff"/>
<path d="M488.85 283.0V292.7" stroke="#ff0000" stroke-width="1.05"/>
<rect x="487.40" y="283.40" width="2.90" height="4.80" fill="#ff0000"/>
<path d="M492.70 274.7V292.0" stroke="#1e90ff" stroke-width="1.05"/>
<rect x="491.25" y="281.70" width="2.90" height="5.90" fill="#1e90ff"/>
<path d="M496.56 278.0V289.5" stroke="#1e90ff" stroke-width="1.05"/>
<rect x="495.11" y="281.20" width="2.90" height="2.20" fill="#1e90ff"/>
<path d="M500.41 281.2V305.4" stroke="#ff0000" stroke-width="1.05"/>
<rect x="498.96" y="283.00" width="2.90" height="18.60" fill="#ff0000"/>
<path d="M504.26 286.2V328.5" stroke="#ff0000" stroke-width="1.05"/>
<rect x="502.81" y="300.00" width="2.90" height="18.60" fill="#ff0000"/>
<path d="M508.11 283.4V319.6" stroke="#1e90ff" stroke-width="1.05"/>
<rect x="506.66" y="298.80" width="2.90" height="19.60" fill="#1e90ff"/>
<path d="M511.96 280.4V313.6" stroke="#1e90ff" stroke-width="1.05"/>
<rect x="510.51" y="282.90" width="2.90" height="15.90" fill="#1e90ff"/>
<path d="M515.82 281.7V322.7" stroke="#ff0000" stroke-width="1.05"/>
<rect x="514.37" y="284.60" width="2.90" height="11.10" fill="#ff0000"/>
<path d="M519.67 288.0V304.2" stroke="#1e90ff" stroke-width="1.05"/>
<rect x="518.22" y="289.20" width="2.90" height="8.60" fill="#1e90ff"/>
<path d="M523.52 288.0V335.0" stroke="#ff0000" stroke-width="1.05"/>
<rect x="522.07" y="290.90" width="2.90" height="40.30" fill="#ff0000"/>
<path d="M527.37 316.2V342.6" stroke="#1e90ff" stroke-width="1.05"/>
<rect x="525.92" y="329.50" width="2.90" height="3.80" fill="#1e90ff"/>
<path d="M531.22 326.8V353.4" stroke="#ff0000" stroke-width="1.05"/>
<rect x="529.77" y="329.50" width="2.90" height="5.10" fill="#ff0000"/>
<path d="M535.08 321.0V335.8" stroke="#1e90ff" stroke-width="1.05"/>
<rect x="533.63" y="329.00" width="2.90" height="5.60" fill="#1e90ff"/>
<path d="M538.93 293.2V338.7" stroke="#1e90ff" stroke-width="1.05"/>
<rect x="537.48" y="303.90" width="2.90" height="26.30" fill="#1e90ff"/>
<path d="M542.78 296.6V322.7" stroke="#1e90ff" stroke-width="1.05"/>
<rect x="541.33" y="297.80" width="2.90" height="5.60" fill="#1e90ff"/>
<path d="M546.63 292.0V308.5" stroke="#ff0000" stroke-width="1.05"/>
<rect x="545.18" y="296.60" width="2.90" height="8.50" fill="#ff0000"/>
<path d="M550.48 303.4V313.1" stroke="#ff0000" stroke-width="1.05"/>
<rect x="549.03" y="307.30" width="2.90" height="4.60" fill="#ff0000"/>
<path d="M554.34 302.5V310.7" stroke="#1e90ff" stroke-width="1.05"/>
<rect x="552.89" y="305.10" width="2.90" height="5.60" fill="#1e90ff"/>
<path d="M558.19 303.4V310.2" stroke="#ff0000" stroke-width="1.05"/>
<rect x="556.74" y="305.60" width="2.90" height="1.70" fill="#ff0000"/>
<path d="M562.04 300.0V311.1" stroke="#1e90ff" stroke-width="1.05"/>
<rect x="560.59" y="306.80" width="2.90" height="1.70" fill="#1e90ff"/>
<path d="M565.89 298.3V318.8" stroke="#1e90ff" stroke-width="1.05"/>
<rect x="564.44" y="304.60" width="2.90" height="1.70" fill="#1e90ff"/>
<path d="M569.74 294.0V311.4" stroke="#1e90ff" stroke-width="1.05"/>
<rect x="568.29" y="294.40" width="2.90" height="9.80" fill="#1e90ff"/>
<path d="M573.60 282.9V301.7" stroke="#ff0000" stroke-width="1.05"/>
<rect x="572.15" y="294.90" width="2.90" height="6.80" fill="#ff0000"/>
<path d="M577.45 297.8V311.9" stroke="#ff0000" stroke-width="1.05"/>
<rect x="576.00" y="302.90" width="2.90" height="3.40" fill="#ff0000"/>
<path d="M581.30 303.9V315.9" stroke="#ff0000" stroke-width="1.05"/>
<rect x="579.85" y="305.10" width="2.90" height="7.70" fill="#ff0000"/>
<path d="M585.15 303.4V317.0" stroke="#1e90ff" stroke-width="1.05"/>
<rect x="583.70" y="309.00" width="2.90" height="4.10" fill="#1e90ff"/>
<path d="M589.00 306.3V335.8" stroke="#ff0000" stroke-width="1.05"/>
<rect x="587.55" y="306.80" width="2.90" height="26.50" fill="#ff0000"/>
<path d="M592.86 332.4V352.9" stroke="#ff0000" stroke-width="1.05"/>
<rect x="591.41" y="333.30" width="2.90" height="16.70" fill="#ff0000"/>
<path d="M596.71 343.2V446.9" stroke="#ff0000" stroke-width="1.05"/>
<rect x="595.26" y="351.20" width="2.90" height="66.20" fill="#ff0000"/>
<path d="M600.56 413.1V446.4" stroke="#ff0000" stroke-width="1.05"/>
<rect x="599.11" y="418.30" width="2.90" height="5.40" fill="#ff0000"/>
<path d="M604.41 402.0V428.5" stroke="#1e90ff" stroke-width="1.05"/>
<rect x="602.96" y="411.80" width="2.90" height="12.90" fill="#1e90ff"/>
<path d="M608.26 408.4V441.3" stroke="#1e90ff" stroke-width="1.05"/>
<rect x="606.81" y="410.60" width="2.90" height="1.70" fill="#1e90ff"/>
<path d="M612.12 407.7V425.1" stroke="#ff0000" stroke-width="1.05"/>
<rect x="610.67" y="408.90" width="2.90" height="9.40" fill="#ff0000"/>
<path d="M615.97 416.2V442.2" stroke="#ff0000" stroke-width="1.05"/>
<rect x="614.52" y="417.40" width="2.90" height="6.30" fill="#ff0000"/>
<path d="M619.82 382.8V423.4" stroke="#1e90ff" stroke-width="1.05"/>
<rect x="618.37" y="403.20" width="2.90" height="19.80" fill="#1e90ff"/>
<path d="M623.67 349.0V419.6" stroke="#1e90ff" stroke-width="1.05"/>
<rect x="622.22" y="351.70" width="2.90" height="50.30" fill="#1e90ff"/>
<path d="M627.52 272.8V353.2" stroke="#1e90ff" stroke-width="1.05"/>
<rect x="626.07" y="286.80" width="2.90" height="64.40" fill="#1e90ff"/>
<path d="M631.38 267.9V294.7" stroke="#1e90ff" stroke-width="1.05"/>
<rect x="629.93" y="273.70" width="2.90" height="13.10" fill="#1e90ff"/>
<path d="M635.23 215.6V276.7" stroke="#1e90ff" stroke-width="1.05"/>
<rect x="633.78" y="249.70" width="2.90" height="23.70" fill="#1e90ff"/>
<path d="M639.08 245.6V258.8" stroke="#000000" stroke-width="1.1"/>
<rect x="637.63" y="249.10" width="2.9" height="1.10" fill="#000000"/>
<path d="M642.93 246.8V261.7" stroke="#ff0000" stroke-width="1.05"/>
<rect x="641.48" y="246.80" width="2.90" height="10.20" fill="#ff0000"/>
<path d="M646.78 253.1V263.9" stroke="#1e90ff" stroke-width="1.05"/>
<rect x="645.33" y="253.60" width="2.90" height="3.40" fill="#1e90ff"/>
<path d="M650.64 256.2V265.6" stroke="#ff0000" stroke-width="1.05"/>
<rect x="649.19" y="261.00" width="2.90" height="2.00" fill="#ff0000"/>
<path d="M654.49 258.2V277.5" stroke="#ff0000" stroke-width="1.05"/>
<rect x="653.04" y="263.00" width="2.90" height="12.00" fill="#ff0000"/>
<path d="M658.34 274.1V295.8" stroke="#ff0000" stroke-width="1.05"/>
<rect x="656.89" y="275.00" width="2.90" height="4.70" fill="#ff0000"/>
<path d="M662.19 265.1V290.0" stroke="#1e90ff" stroke-width="1.05"/>
<rect x="660.74" y="272.90" width="2.90" height="7.20" fill="#1e90ff"/>
<path d="M666.04 261.0V275.0" stroke="#1e90ff" stroke-width="1.05"/>
<rect x="664.59" y="263.00" width="2.90" height="11.60" fill="#1e90ff"/>
<path d="M669.90 255.3V266.1" stroke="#ff0000" stroke-width="1.05"/>
<rect x="668.45" y="262.20" width="2.90" height="2.20" fill="#ff0000"/>
<path d="M673.75 257.6V276.7" stroke="#ff0000" stroke-width="1.05"/>
<rect x="672.30" y="261.00" width="2.90" height="14.00" fill="#ff0000"/>
<path d="M677.60 263.9V275.8" stroke="#1e90ff" stroke-width="1.05"/>
<rect x="676.15" y="269.00" width="2.90" height="5.10" fill="#1e90ff"/>
<path d="M681.45 258.2V277.5" stroke="#ff0000" stroke-width="1.05"/>
<rect x="680.00" y="269.80" width="2.90" height="5.50" fill="#ff0000"/>
<path d="M685.30 246.8V299.7" stroke="#ff0000" stroke-width="1.05"/>
<rect x="683.85" y="276.30" width="2.90" height="5.20" fill="#ff0000"/>
<path d="M689.16 250.2V294.6" stroke="#1e90ff" stroke-width="1.05"/>
<rect x="687.71" y="263.00" width="2.90" height="19.10" fill="#1e90ff"/>
<path d="M693.01 256.2V281.8" stroke="#ff0000" stroke-width="1.05"/>
<rect x="691.56" y="263.90" width="2.90" height="7.70" fill="#ff0000"/>
<path d="M696.86 262.2V290.0" stroke="#ff0000" stroke-width="1.05"/>
<rect x="695.41" y="269.80" width="2.90" height="6.90" fill="#ff0000"/>
<path d="M700.71 272.9V293.7" stroke="#ff0000" stroke-width="1.05"/>
<rect x="699.26" y="276.70" width="2.90" height="5.40" fill="#ff0000"/>
<path d="M704.56 273.6V292.9" stroke="#1e90ff" stroke-width="1.05"/>
<rect x="703.11" y="280.40" width="2.90" height="2.80" fill="#1e90ff"/>
<path d="M708.42 240.8V289.0" stroke="#1e90ff" stroke-width="1.05"/>
<rect x="706.97" y="257.60" width="2.90" height="22.50" fill="#1e90ff"/>
<path d="M712.27 222.4V257.0" stroke="#1e90ff" stroke-width="1.05"/>
<rect x="710.82" y="240.00" width="2.90" height="17.00" fill="#1e90ff"/>
<path d="M716.12 212.7V263.0" stroke="#1e90ff" stroke-width="1.05"/>
<rect x="714.67" y="232.00" width="2.90" height="9.70" fill="#1e90ff"/>
<path d="M719.97 220.7V240.8" stroke="#1e90ff" stroke-width="1.05"/>
<rect x="718.52" y="221.70" width="2.90" height="10.30" fill="#1e90ff"/>
<path d="M723.82 216.9V240.0" stroke="#ff0000" stroke-width="1.05"/>
<rect x="722.37" y="221.70" width="2.90" height="6.30" fill="#ff0000"/>
<path d="M727.68 225.8V253.6" stroke="#ff0000" stroke-width="1.05"/>
<rect x="726.23" y="228.00" width="2.90" height="23.40" fill="#ff0000"/>
<path d="M731.53 238.3V253.6" stroke="#1e90ff" stroke-width="1.05"/>
<rect x="730.08" y="238.80" width="2.90" height="13.10" fill="#1e90ff"/>
<path d="M735.38 228.0V245.1" stroke="#1e90ff" stroke-width="1.05"/>
<rect x="733.93" y="237.80" width="2.90" height="3.40" fill="#1e90ff"/>
<path d="M739.23 217.8V238.8" stroke="#1e90ff" stroke-width="1.05"/>
<rect x="737.78" y="222.10" width="2.90" height="16.20" fill="#1e90ff"/>
<path d="M743.08 221.8V236.0" stroke="#000000" stroke-width="1.1"/>
<rect x="741.63" y="225.20" width="2.9" height="1.50" fill="#000000"/>
<path d="M746.94 221.2V244.6" stroke="#ff0000" stroke-width="1.05"/>
<rect x="745.49" y="223.40" width="2.90" height="20.00" fill="#ff0000"/>
<path d="M750.79 230.9V250.7" stroke="#ff0000" stroke-width="1.05"/>
<rect x="749.34" y="240.80" width="2.90" height="6.00" fill="#ff0000"/>
<path d="M754.64 244.6V269.0" stroke="#ff0000" stroke-width="1.05"/>
<rect x="753.19" y="245.10" width="2.90" height="17.90" fill="#ff0000"/>
<path d="M758.49 261.0V275.0" stroke="#ff0000" stroke-width="1.05"/>
<rect x="757.04" y="261.00" width="2.90" height="1.70" fill="#ff0000"/>
<path d="M762.34 244.6V266.1" stroke="#1e90ff" stroke-width="1.05"/>
<rect x="760.89" y="249.40" width="2.90" height="14.50" fill="#1e90ff"/>
<path d="M766.20 249.0V255.9" stroke="#ff0000" stroke-width="1.05"/>
<rect x="764.75" y="249.00" width="2.90" height="6.90" fill="#ff0000"/>
<polyline points="3.0,326.5 20.5,319.1 42.7,314.0 63.1,309.7 85.3,304.6 99.0,300.9 119.5,294.7 136.5,288.4 153.6,283.3 162.6,280.3 170.0,277.0 192.4,268.7 226.6,255.1 262.4,240.2 284.6,228.3 310.2,215.5 330.0,206.6 337.3,204.6 361.2,200.3 386.8,198.1 420.0,198.1 427.0,198.7 454.0,199.0 457.0,197.9 485.6,197.6 511.2,199.9 536.8,201.6 559.0,205.0 579.5,208.9 593.1,211.8 605.0,216.9 610.0,218.3 620.2,223.8 635.6,227.2 651.0,229.7 678.3,233.7 703.9,237.1 729.5,237.8 746.5,238.3 760.6,238.3 761.6,239.5 766.0,239.5" fill="none" stroke="#ff0000" stroke-width="1.05" stroke-linejoin="round"/>
<polyline points="3.4,535.1 17.1,527.8 34.1,516.4 42.7,512.9 51.2,514.1 59.7,518.1 68.3,524.9 76.8,530.9 85.3,536.8 93.9,542.0 102.4,544.9 110.9,544.9 119.5,542.0 128.0,537.7 136.5,532.9 145.1,532.2 153.6,534.6 160.4,535.6 161.4,535.6 170.2,529.2 177.1,521.5 182.2,514.7 187.3,504.4 194.1,495.0 201.0,487.9 207.8,484.8 214.6,483.9 221.4,484.4 228.3,486.8 233.4,489.1 240.2,488.5 247.0,486.8 253.9,483.9 260.7,480.5 265.8,477.1 272.6,474.2 279.5,473.7 289.7,473.7 305.1,473.4 313.6,475.4 320.4,477.3 320.0,477.6 328.5,479.7 337.1,484.4 345.6,491.6 354.1,505.3 361.0,518.9 367.8,532.6 374.6,542.8 381.4,550.5 388.3,555.6 396.8,559.5 405.3,559.5 413.9,557.3 422.4,555.6 439.5,554.4 448.0,552.2 456.5,549.3 465.1,546.6 473.6,543.7 480.4,541.6 480.0,542.5 488.5,539.4 497.1,536.8 505.6,535.1 514.1,534.3 522.7,533.4 531.2,533.9 539.7,534.6 548.3,533.9 558.5,532.9 565.3,529.5 573.9,527.1 582.4,524.9 589.2,523.7 596.0,524.0 602.9,530.0 609.7,536.0 616.5,542.8 623.3,547.9 628.5,549.6 633.6,546.2 638.7,541.1 640.0,539.4 645.1,529.2 651.1,518.9 657.1,507.8 662.2,500.1 667.3,494.7 674.1,491.6 682.7,490.8 691.2,491.6 699.7,493.7 708.3,495.9 713.4,497.1 720.2,496.7 728.7,495.9 737.3,494.2 744.1,492.5 750.9,491.6 757.7,493.0 765.4,496.4" fill="none" stroke="#ff0000" stroke-width="1.1" stroke-dasharray="3 1.9"/>
<rect x="2" y="463.3" width="960" height="3.7" fill="#6c6c6c"/>
<rect x="3" y="464.7" width="958" height="0.9" fill="#8a8a8a"/>
<rect x="1.9" y="1.8" width="1.2" height="564.6" fill="#111"/>
<rect x="1.9" y="1.8" width="961" height="1.1" fill="#111"/>
<rect x="1.9" y="565.4" width="961" height="1.1" fill="#222"/>
<rect x="961.1" y="1.8" width="2" height="564.7" fill="#4e4e4e"/>
<g class="t" fill="#383838" style="font-size:8.25px">
<rect x="2.95" y="566" width="1.1" height="3.6" fill="#111" stroke="none"/>
<text x="2.20" y="578.1">27 Jan 2017</text>
<rect x="64.58" y="566" width="1.1" height="3.6" fill="#111" stroke="none"/>
<text x="63.53" y="578.1">30 Jan 15:00</text>
<rect x="126.21" y="566" width="1.1" height="3.6" fill="#111" stroke="none"/>
<text x="125.16" y="578.1">31 Jan 07:00</text>
<rect x="187.85" y="566" width="1.1" height="3.6" fill="#111" stroke="none"/>
<text x="186.80" y="578.1">31 Jan 23:00</text>
<rect x="249.48" y="566" width="1.1" height="3.6" fill="#111" stroke="none"/>
<text x="248.43" y="578.1">1 Feb 15:00</text>
<rect x="311.11" y="566" width="1.1" height="3.6" fill="#111" stroke="none"/>
<text x="310.06" y="578.1">2 Feb 07:00</text>
<rect x="372.74" y="566" width="1.1" height="3.6" fill="#111" stroke="none"/>
<text x="371.69" y="578.1">2 Feb 23:00</text>
<rect x="434.37" y="566" width="1.1" height="3.6" fill="#111" stroke="none"/>
<text x="433.32" y="578.1">3 Feb 15:00</text>
<rect x="496.01" y="566" width="1.1" height="3.6" fill="#111" stroke="none"/>
<text x="494.96" y="578.1">6 Feb 08:00</text>
<rect x="557.64" y="566" width="1.1" height="3.6" fill="#111" stroke="none"/>
<text x="556.59" y="578.1">7 Feb 00:00</text>
<rect x="619.27" y="566" width="1.1" height="3.6" fill="#111" stroke="none"/>
<text x="618.22" y="578.1">7 Feb 16:00</text>
<rect x="680.90" y="566" width="1.1" height="3.6" fill="#111" stroke="none"/>
<text x="679.85" y="578.1">8 Feb 08:00</text>
<rect x="742.53" y="566" width="1.1" height="3.6" fill="#111" stroke="none"/>
<text x="741.48" y="578.1">9 Feb 00:00</text>
</g>
<g class="t" fill="#383838">
<rect x="962.3" y="43.05" width="2.0" height="1.1" fill="#111" stroke="none"/>
<text x="967.9" y="47.20">1.2695</text>
<rect x="962.3" y="77.60" width="2.0" height="1.1" fill="#111" stroke="none"/>
<text x="967.9" y="81.75">1.2665</text>
<rect x="962.3" y="112.15" width="2.0" height="1.1" fill="#111" stroke="none"/>
<text x="967.9" y="116.30">1.2635</text>
<rect x="962.3" y="146.70" width="2.0" height="1.1" fill="#111" stroke="none"/>
<text x="967.9" y="150.85">1.2605</text>
<rect x="962.3" y="181.25" width="2.0" height="1.1" fill="#111" stroke="none"/>
<text x="967.9" y="185.40">1.2575</text>
<rect x="962.3" y="215.80" width="2.0" height="1.1" fill="#111" stroke="none"/>
<text x="967.9" y="219.95">1.2545</text>
<rect x="962.3" y="250.35" width="2.0" height="1.1" fill="#111" stroke="none"/>
<text x="967.9" y="254.50">1.2515</text>
<rect x="962.3" y="284.90" width="2.0" height="1.1" fill="#111" stroke="none"/>
<text x="967.9" y="289.05">1.2485</text>
<rect x="962.3" y="319.45" width="2.0" height="1.1" fill="#111" stroke="none"/>
<text x="967.9" y="323.60">1.2455</text>
<rect x="962.3" y="354.00" width="2.0" height="1.1" fill="#111" stroke="none"/>
<text x="967.9" y="358.15">1.2425</text>
<rect x="962.3" y="388.55" width="2.0" height="1.1" fill="#111" stroke="none"/>
<text x="967.9" y="392.70">1.2395</text>
<rect x="962.3" y="423.10" width="2.0" height="1.1" fill="#111" stroke="none"/>
<text x="967.9" y="427.25">1.2365</text>
<rect x="962.3" y="457.65" width="2.0" height="1.1" fill="#111" stroke="none"/>
<text x="967.9" y="461.80">1.2335</text>
<text x="965.3" y="476.4" textLength="26.8" lengthAdjust="spacingAndGlyphs">0.00309</text>
<rect x="962.5" y="513.6" width="1.6" height="1.1" fill="#111" stroke="none"/>
<text x="964.8" y="517.8" textLength="15" lengthAdjust="spacingAndGlyphs">0.00</text>
<text x="965.7" y="563.1" textLength="30.2" lengthAdjust="spacingAndGlyphs">-0.00336</text>
</g>
<rect x="962.5" y="7.40" width="2" height="1.1" fill="#111"/>
<rect x="964.3" y="2.90" width="32.6" height="10.5" fill="#ff0000"/>
<text x="967.9" y="11.70" class="t" fill="#fff" stroke="#fff" stroke-width="0.3">1.2725</text>
<rect x="962.5" y="31.50" width="2" height="1.1" fill="#111"/>
<rect x="964.3" y="27.00" width="31.8" height="10.5" fill="#ff0000"/>
<text x="967.9" y="35.80" class="t" fill="#fff" stroke="#fff" stroke-width="0.3">1.2705</text>
<rect x="962.5" y="38.00" width="2" height="1.1" fill="#111"/>
<rect x="964.3" y="33.50" width="29.8" height="10.5" fill="#ff0000"/>
<text x="967.9" y="42.30" class="t" fill="#fff" stroke="#fff" stroke-width="0.3">1.2699</text>
<rect x="962.5" y="113.40" width="2" height="1.1" fill="#111"/>
<rect x="964.3" y="108.90" width="31.8" height="10.5" fill="#ff0000"/>
<text x="967.9" y="117.70" class="t" fill="#fff" stroke="#fff" stroke-width="0.3">1.2633</text>
<rect x="962.5" y="177.20" width="2" height="1.1" fill="#111"/>
<rect x="964.3" y="172.70" width="32.4" height="10.5" fill="#ff0000"/>
<text x="967.9" y="181.50" class="t" fill="#fff" stroke="#fff" stroke-width="0.3">1.2577</text>
<rect x="962.5" y="213.80" width="2" height="1.1" fill="#111"/>
<rect x="964.3" y="209.30" width="31.8" height="10.5" fill="#ff0000"/>
<text x="967.9" y="218.10" class="t" fill="#fff" stroke="#fff" stroke-width="0.3">1.2546</text>
<rect x="962.5" y="309.00" width="2" height="1.1" fill="#111"/>
<rect x="964.3" y="304.50" width="31.8" height="10.5" fill="#ff0000"/>
<text x="967.9" y="313.30" class="t" fill="#fff" stroke="#fff" stroke-width="0.3">1.2463</text>
<rect x="962.5" y="444.80" width="2" height="1.1" fill="#111"/>
<rect x="964.3" y="440.30" width="32.8" height="10.5" fill="#ff0000"/>
<text x="967.9" y="449.10" class="t" fill="#fff" stroke="#fff" stroke-width="0.3">1.2345</text>
<rect x="962.5" y="254.90" width="2" height="1.1" fill="#111"/>
<rect x="964.3" y="250.40" width="32.6" height="10.5" fill="#000000"/>
<text x="967.9" y="259.20" class="t" fill="#fff" stroke="#fff" stroke-width="0.3">1.2511</text>
<path d="M5.8 8.8H12.2L9 12.6Z" fill="#000"/>
<g class="t" fill="#383838">
<text x="17" y="13.5" textLength="45.5" lengthAdjust="spacingAndGlyphs">GBPUSD,H1</text>
<text x="70" y="13.5" textLength="25.6" lengthAdjust="spacingAndGlyphs">1.2517</text>
<text x="100" y="13.5" textLength="25.6" lengthAdjust="spacingAndGlyphs">1.2517</text>
<text x="129.6" y="13.5" textLength="25.2" lengthAdjust="spacingAndGlyphs">1.2511</text>
<text x="159.4" y="13.5" textLength="24.8" lengthAdjust="spacingAndGlyphs">1.2511</text>
<text x="7.5" y="478" textLength="117.6" lengthAdjust="spacingAndGlyphs">MACD(12,26,9) 0.00067 0.00116</text>
</g>
</svg></body></html>
